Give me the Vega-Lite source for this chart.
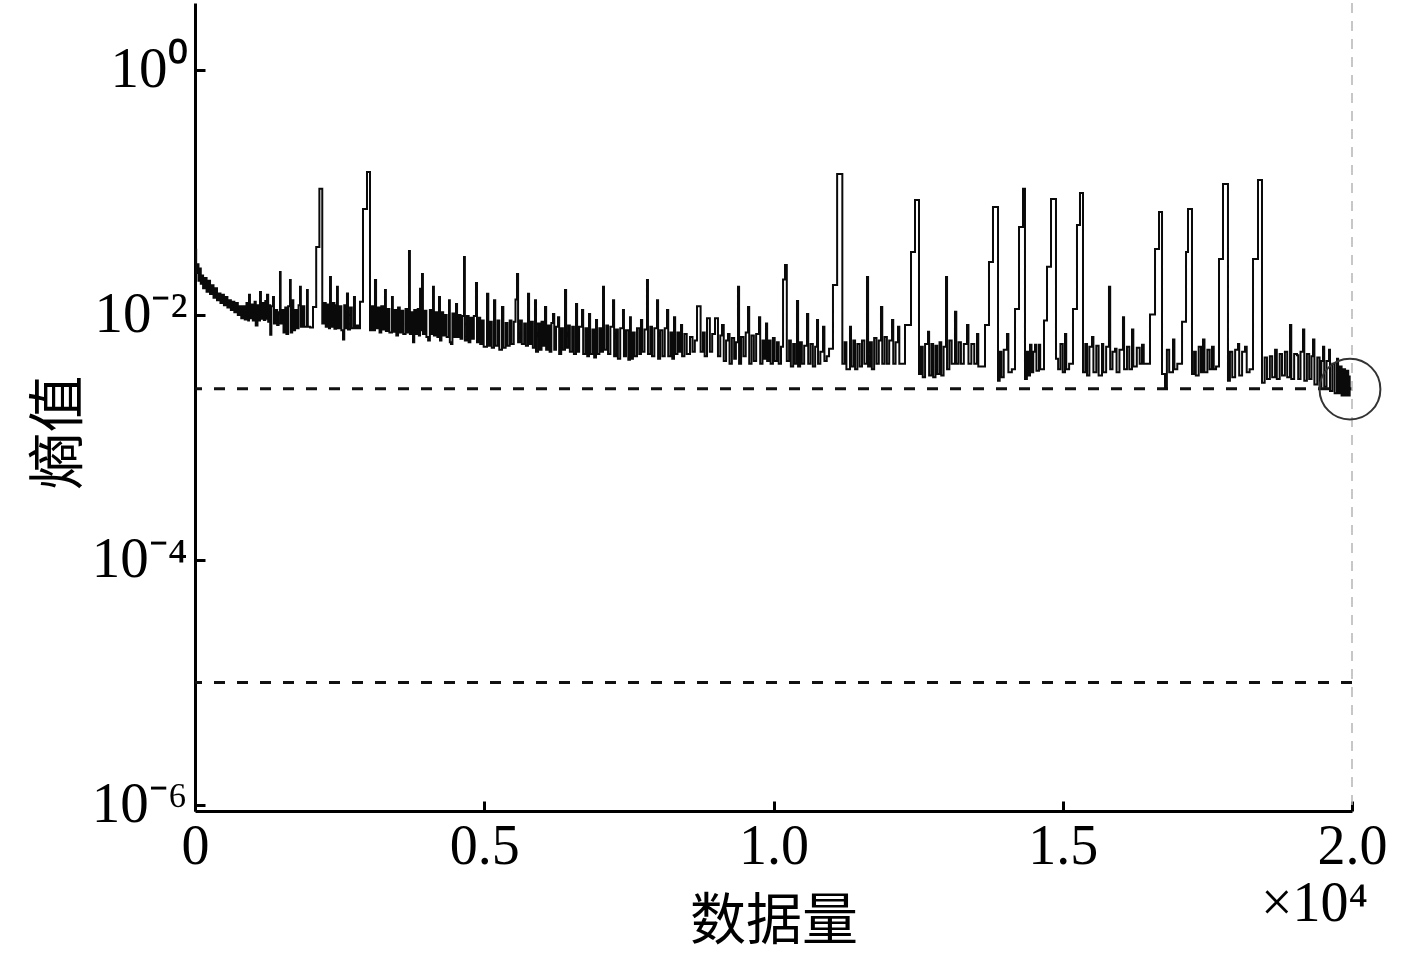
{
  "$schema": "https://vega.github.io/schema/vega-lite/v6.json",
  "width": 1157,
  "height": 808,
  "autosize": {"type": "none"},
  "padding": {"left": 195, "top": 3, "right": 65, "bottom": 144},
  "background": "white",
  "config": {"view": {"stroke": null}, "axis": {"grid": false}},
  "title": {"text": "×10⁴", "orient": "bottom", "anchor": "end", "frame": "group", "font": "Liberation Serif", "fontSize": 56, "fontWeight": "normal", "color": "#000", "baseline": "top", "offset": -72, "dx": 16},
  "layer": [
    {
      "data": {"values": [{"h": 0.0025}, {"h": 0.00001}]},
      "mark": {"type": "rule", "strokeDash": [11, 12], "strokeWidth": 3, "color": "#111"},
      "encoding": {"y": {"field": "h", "type": "quantitative", "title": "熵值", "scale": {"type": "log", "domain": [8.93e-7, 3.52], "nice": false}}}
    },
    {
      "data": {"values": [{"n": 20000}]},
      "mark": {"type": "rule", "strokeDash": [10, 8], "strokeWidth": 1.5, "color": "#b5b5b5"},
      "encoding": {"x": {"field": "n", "type": "quantitative", "title": "数据量", "scale": {"domain": [0, 20000], "nice": false, "zero": false}}}
    },
    {
      "data": {"values": [
{"n":0,"h":0.034},{"n":20,"h":0.022},{"n":40,"h":0.026},{"n":60,"h":0.019},{"n":80,"h":0.024},{"n":100,"h":0.018},{"n":120,"h":0.021},{"n":140,"h":0.0165},{"n":170,"h":0.020},{"n":200,"h":0.0155},{"n":230,"h":0.019},{"n":260,"h":0.0148},{"n":290,"h":0.0175},{"n":320,"h":0.0138},{"n":350,"h":0.0165},{"n":380,"h":0.0132},{"n":410,"h":0.0150},{"n":440,"h":0.0125},{"n":470,"h":0.0146},{"n":500,"h":0.0120},{"n":530,"h":0.0140},{"n":560,"h":0.0115},{"n":590,"h":0.0132},{"n":620,"h":0.0110},{"n":650,"h":0.0128},{"n":680,"h":0.0105},{"n":710,"h":0.0125},{"n":740,"h":0.0100},{"n":770,"h":0.0118},{"n":800,"h":0.0094},
{"n":830,"h":0.0118},{"n":860,"h":0.0092},{"n":890,"h":0.0125},{"n":920,"h":0.0090},{"n":933,"h":0.0146},{"n":950,"h":0.0094},{"n":980,"h":0.0122},{"n":1000,"h":0.0090},{"n":1030,"h":0.0128},{"n":1050,"h":0.0082},{"n":1080,"h":0.0120},{"n":1100,"h":0.0090},{"n":1124,"h":0.0154},{"n":1140,"h":0.0093},{"n":1170,"h":0.0125},{"n":1190,"h":0.0091},{"n":1215,"h":0.0130},{"n":1235,"h":0.0093},{"n":1245,"h":0.0146},{"n":1265,"h":0.0088},{"n":1290,"h":0.0120},{"n":1300,"h":0.0069},{"n":1320,"h":0.0118},{"n":1348,"h":0.0140},{"n":1365,"h":0.0085},{"n":1390,"h":0.0110},{"n":1420,"h":0.0083},{"n":1445,"h":0.0105},{"n":1469,"h":0.0224},{"n":1480,"h":0.0085},{"n":1510,"h":0.0110},{"n":1530,"h":0.0072},{"n":1560,"h":0.0115},{"n":1580,"h":0.0070},{"n":1610,"h":0.0118},{"n":1642,"h":0.0193},{"n":1655,"h":0.0072},{"n":1680,"h":0.0132},{"n":1700,"h":0.0075},{"n":1730,"h":0.0110},{"n":1760,"h":0.0078},{"n":1790,"h":0.0120},{"n":1815,"h":0.0170},{"n":1830,"h":0.0080},{"n":1860,"h":0.0118},{"n":1890,"h":0.0080},{"n":1936,"h":0.0160},{"n":1950,"h":0.0080},{"n":1990,"h":0.0079},
{"n":2040,"h":0.0116},{"n":2095,"h":0.0359},{"n":2150,"h":0.107},{"n":2200,"h":0.0085},
{"n":2230,"h":0.0125},{"n":2260,"h":0.0080},{"n":2290,"h":0.0122},{"n":2315,"h":0.0078},{"n":2334,"h":0.0204},{"n":2350,"h":0.0080},{"n":2380,"h":0.0125},{"n":2410,"h":0.0077},{"n":2440,"h":0.0120},{"n":2455,"h":0.0170},{"n":2470,"h":0.0078},{"n":2500,"h":0.0118},{"n":2530,"h":0.0075},{"n":2558,"h":0.0063},{"n":2580,"h":0.0120},{"n":2610,"h":0.0078},{"n":2627,"h":0.0150},{"n":2645,"h":0.0076},{"n":2680,"h":0.0115},{"n":2710,"h":0.0078},{"n":2748,"h":0.0140},{"n":2765,"h":0.0078},{"n":2800,"h":0.0082},{"n":2830,"h":0.0078},
{"n":2852,"h":0.0128},{"n":2904,"h":0.0733},{"n":2973,"h":0.147},{"n":3025,"h":0.0075},
{"n":3060,"h":0.0118},{"n":3090,"h":0.0075},{"n":3111,"h":0.0193},{"n":3130,"h":0.0078},{"n":3160,"h":0.0115},{"n":3190,"h":0.0072},{"n":3220,"h":0.0118},{"n":3250,"h":0.0076},{"n":3284,"h":0.0160},{"n":3300,"h":0.0074},{"n":3330,"h":0.0112},{"n":3360,"h":0.0072},{"n":3405,"h":0.0140},{"n":3420,"h":0.0073},{"n":3450,"h":0.0110},{"n":3480,"h":0.0068},{"n":3510,"h":0.0115},{"n":3540,"h":0.0072},{"n":3570,"h":0.0108},{"n":3600,"h":0.0070},{"n":3640,"h":0.0112},{"n":3670,"h":0.0072},{"n":3699,"h":0.0333},{"n":3715,"h":0.0070},{"n":3740,"h":0.0105},{"n":3768,"h":0.0060},{"n":3790,"h":0.0110},{"n":3820,"h":0.0070},{"n":3850,"h":0.0112},{"n":3870,"h":0.0068},{"n":3890,"h":0.0164},{"n":3905,"h":0.0075},{"n":3924,"h":0.0216},{"n":3940,"h":0.0070},{"n":3970,"h":0.0108},{"n":4000,"h":0.0066},{"n":4030,"h":0.0062},{"n":4060,"h":0.0110},{"n":4090,"h":0.0070},{"n":4114,"h":0.0170},{"n":4130,"h":0.0068},{"n":4160,"h":0.0105},{"n":4190,"h":0.0066},{"n":4218,"h":0.0140},{"n":4235,"h":0.0062},{"n":4260,"h":0.0105},{"n":4290,"h":0.0068},{"n":4320,"h":0.0100},{"n":4350,"h":0.0066},{"n":4391,"h":0.0132},{"n":4405,"h":0.0060},{"n":4425,"h":0.0058},{"n":4450,"h":0.0103},{"n":4480,"h":0.0066},{"n":4512,"h":0.0123},{"n":4530,"h":0.0066},{"n":4560,"h":0.0100},{"n":4590,"h":0.0064},{"n":4620,"h":0.0098},{"n":4650,"h":0.0297},{"n":4665,"h":0.0062},{"n":4700,"h":0.0098},{"n":4730,"h":0.0060},{"n":4760,"h":0.0095},{"n":4790,"h":0.0064},{"n":4820,"h":0.0098},{"n":4857,"h":0.0182},{"n":4875,"h":0.0060},{"n":4900,"h":0.0095},{"n":4930,"h":0.0058},
{"n":4960,"h":0.0090},{"n":4990,"h":0.0055},{"n":5048,"h":0.0149},{"n":5070,"h":0.0056},{"n":5100,"h":0.0088},{"n":5130,"h":0.0054},{"n":5169,"h":0.0132},{"n":5190,"h":0.0056},{"n":5230,"h":0.0090},{"n":5260,"h":0.0052},{"n":5307,"h":0.0116},{"n":5330,"h":0.0054},{"n":5370,"h":0.0086},{"n":5400,"h":0.0056},{"n":5440,"h":0.0090},{"n":5470,"h":0.0058},{"n":5510,"h":0.0088},{"n":5540,"h":0.0134},{"n":5566,"h":0.0216},{"n":5585,"h":0.0060},{"n":5620,"h":0.0090},{"n":5650,"h":0.0058},{"n":5690,"h":0.0085},{"n":5720,"h":0.0056},{"n":5756,"h":0.0149},{"n":5775,"h":0.0058},{"n":5810,"h":0.0088},{"n":5840,"h":0.0054},{"n":5877,"h":0.0132},{"n":5895,"h":0.0050},{"n":5930,"h":0.0085},{"n":5960,"h":0.0052},{"n":5990,"h":0.0088},{"n":6020,"h":0.0056},{"n":6050,"h":0.0116},{"n":6070,"h":0.0052},{"n":6100,"h":0.0082},{"n":6130,"h":0.0050},{"n":6160,"h":0.0086},{"n":6188,"h":0.0102},{"n":6210,"h":0.0052},{"n":6240,"h":0.0080},{"n":6275,"h":0.0096},{"n":6295,"h":0.0048},{"n":6330,"h":0.0078},{"n":6360,"h":0.0052},{"n":6396,"h":0.0160},{"n":6415,"h":0.0054},{"n":6450,"h":0.0082},{"n":6480,"h":0.0050},{"n":6520,"h":0.0080},{"n":6550,"h":0.0048},{"n":6586,"h":0.0123},{"n":6605,"h":0.0050},{"n":6640,"h":0.0080},{"n":6690,"h":0.0110},{"n":6710,"h":0.0048},{"n":6750,"h":0.0078},{"n":6780,"h":0.0046},{"n":6811,"h":0.0102},{"n":6830,"h":0.0048},{"n":6870,"h":0.0076},{"n":6900,"h":0.0045},{"n":6932,"h":0.0091},{"n":6950,"h":0.0048},{"n":6990,"h":0.0078},{"n":7020,"h":0.0050},{"n":7053,"h":0.0170},{"n":7070,"h":0.0052},{"n":7110,"h":0.0082},{"n":7140,"h":0.0048},{"n":7180,"h":0.0080},{"n":7226,"h":0.0132},{"n":7245,"h":0.0046},{"n":7280,"h":0.0076},{"n":7310,"h":0.0044},{"n":7350,"h":0.0078},{"n":7398,"h":0.0110},{"n":7415,"h":0.0046},{"n":7450,"h":0.0075},{"n":7490,"h":0.0043},{"n":7519,"h":0.0096},{"n":7535,"h":0.0044},{"n":7570,"h":0.0072},{"n":7600,"h":0.0046},{"n":7640,"h":0.0078},{"n":7680,"h":0.0048},{"n":7709,"h":0.0091},{"n":7730,"h":0.0050},{"n":7770,"h":0.0076},{"n":7813,"h":0.0193},{"n":7830,"h":0.0048},{"n":7870,"h":0.0080},{"n":7900,"h":0.0046},{"n":7940,"h":0.0078},{"n":7986,"h":0.0132},{"n":8005,"h":0.0044},{"n":8040,"h":0.0075},{"n":8080,"h":0.0046},{"n":8120,"h":0.0078},{"n":8159,"h":0.0110},{"n":8180,"h":0.0046},{"n":8220,"h":0.0072},{"n":8250,"h":0.0044},{"n":8280,"h":0.0096},{"n":8300,"h":0.0048},{"n":8340,"h":0.0072},{"n":8370,"h":0.0050},{"n":8401,"h":0.0083},{"n":8420,"h":0.0046},{"n":8460,"h":0.0070},{"n":8500,"h":0.0048},{"n":8557,"h":0.0066},{"n":8600,"h":0.0050},{"n":8640,"h":0.0062},{"n":8678,"h":0.0118},{"n":8740,"h":0.0050},{"n":8780,"h":0.0072},{"n":8810,"h":0.0046},{"n":8850,"h":0.0094},{"n":8900,"h":0.0050},{"n":8940,"h":0.0070},{"n":8989,"h":0.0094},{"n":9040,"h":0.0046},{"n":9080,"h":0.0068},{"n":9110,"h":0.0083},{"n":9140,"h":0.0042},{"n":9180,"h":0.0062},{"n":9213,"h":0.0070},{"n":9240,"h":0.0040},{"n":9280,"h":0.0065},{"n":9320,"h":0.0044},{"n":9350,"h":0.0060},{"n":9386,"h":0.0170},{"n":9405,"h":0.0040},{"n":9440,"h":0.0066},{"n":9480,"h":0.0046},{"n":9520,"h":0.0072},{"n":9559,"h":0.0116},{"n":9580,"h":0.0040},{"n":9620,"h":0.0068},{"n":9660,"h":0.0042},{"n":9700,"h":0.0070},{"n":9749,"h":0.0096},{"n":9770,"h":0.0040},{"n":9810,"h":0.0062},{"n":9840,"h":0.0044},{"n":9870,"h":0.0085},{"n":9890,"h":0.0042},
{"n":9920,"h":0.0062},{"n":9950,"h":0.0040},{"n":9990,"h":0.0065},{"n":10020,"h":0.0042},{"n":10060,"h":0.0060},{"n":10090,"h":0.0040},{"n":10130,"h":0.0055},{"n":10165,"h":0.0195},{"n":10199,"h":0.0256},{"n":10230,"h":0.0042},{"n":10270,"h":0.0062},{"n":10300,"h":0.0038},{"n":10340,"h":0.0058},{"n":10370,"h":0.0040},{"n":10406,"h":0.0130},{"n":10425,"h":0.0038},{"n":10460,"h":0.0060},{"n":10490,"h":0.0040},{"n":10530,"h":0.0056},{"n":10579,"h":0.0102},{"n":10600,"h":0.0040},{"n":10640,"h":0.0058},{"n":10680,"h":0.0038},{"n":10720,"h":0.0055},{"n":10752,"h":0.0091},{"n":10770,"h":0.0040},{"n":10810,"h":0.0050},{"n":10856,"h":0.0080},{"n":10880,"h":0.0042},{"n":10920,"h":0.0046},{"n":10960,"h":0.0053},{"n":11028,"h":0.0176},{"n":11100,"h":0.1416},{"n":11190,"h":0.0040},{"n":11230,"h":0.0060},{"n":11260,"h":0.0036},{"n":11322,"h":0.0080},{"n":11340,"h":0.0038},{"n":11380,"h":0.0062},{"n":11410,"h":0.0036},{"n":11450,"h":0.0058},{"n":11490,"h":0.0038},{"n":11530,"h":0.0062},{"n":11570,"h":0.0040},{"n":11616,"h":0.0204},{"n":11635,"h":0.0038},{"n":11670,"h":0.0060},{"n":11700,"h":0.0036},{"n":11740,"h":0.0065},{"n":11780,"h":0.0040},{"n":11820,"h":0.0062},{"n":11858,"h":0.0116},{"n":11880,"h":0.0040},{"n":11920,"h":0.0066},{"n":11960,"h":0.0040},{"n":12000,"h":0.0062},{"n":12049,"h":0.0091},{"n":12070,"h":0.0040},{"n":12110,"h":0.0060},{"n":12152,"h":0.0080},{"n":12175,"h":0.0040},{"n":12273,"h":0.0083},{"n":12377,"h":0.0327},{"n":12446,"h":0.0869},{"n":12515,"h":0.0033},{"n":12550,"h":0.0055},{"n":12580,"h":0.0031},{"n":12620,"h":0.0058},{"n":12671,"h":0.0073},{"n":12690,"h":0.0032},{"n":12730,"h":0.0058},{"n":12760,"h":0.0031},{"n":12800,"h":0.0056},{"n":12830,"h":0.0033},{"n":12870,"h":0.0060},{"n":12900,"h":0.0032},{"n":12940,"h":0.0055},{"n":12982,"h":0.0204},{"n":13000,"h":0.0036},{"n":13040,"h":0.0062},{"n":13080,"h":0.0040},{"n":13137,"h":0.0106},{"n":13160,"h":0.0040},{"n":13200,"h":0.0060},{"n":13240,"h":0.0040},{"n":13290,"h":0.0058},{"n":13345,"h":0.0083},{"n":13370,"h":0.0040},{"n":13420,"h":0.0058},{"n":13470,"h":0.0040},{"n":13518,"h":0.0070},{"n":13540,"h":0.0038},{"n":13656,"h":0.0083},{"n":13725,"h":0.0271},{"n":13794,"h":0.0762},{"n":13881,"h":0.0029},{"n":13910,"h":0.0050},{"n":13940,"h":0.0031},{"n":13980,"h":0.0052},{"n":14036,"h":0.0070},{"n":14060,"h":0.0034},{"n":14120,"h":0.0036},{"n":14175,"h":0.0112},{"n":14244,"h":0.0522},{"n":14313,"h":0.107},{"n":14347,"h":0.0030},{"n":14380,"h":0.0050},{"n":14410,"h":0.0032},{"n":14434,"h":0.0057},{"n":14460,"h":0.0034},{"n":14490,"h":0.0050},{"n":14520,"h":0.0057},{"n":14545,"h":0.0035},{"n":14589,"h":0.0057},{"n":14610,"h":0.0036},{"n":14676,"h":0.0090},{"n":14728,"h":0.0247},{"n":14797,"h":0.0885},{"n":14883,"h":0.0044},
{"n":14920,"h":0.0036},{"n":14960,"h":0.0058},{"n":15000,"h":0.0034},{"n":15039,"h":0.0070},{"n":15060,"h":0.0036},{"n":15110,"h":0.0040},{"n":15177,"h":0.0112},{"n":15246,"h":0.0543},{"n":15298,"h":0.0991},{"n":15350,"h":0.0034},{"n":15390,"h":0.0058},{"n":15420,"h":0.0032},{"n":15460,"h":0.0055},{"n":15506,"h":0.0066},{"n":15530,"h":0.0034},{"n":15580,"h":0.0056},{"n":15620,"h":0.0032},{"n":15679,"h":0.0058},{"n":15700,"h":0.0034},{"n":15750,"h":0.0055},{"n":15799,"h":0.0170},{"n":15820,"h":0.0036},{"n":15860,"h":0.0050},{"n":15903,"h":0.0053},{"n":15930,"h":0.0034},{"n":15980,"h":0.0052},{"n":16041,"h":0.0096},{"n":16060,"h":0.0036},{"n":16110,"h":0.0055},{"n":16150,"h":0.0036},{"n":16197,"h":0.0076},{"n":16220,"h":0.0038},{"n":16280,"h":0.0054},{"n":16330,"h":0.0040},{"n":16370,"h":0.0057},{"n":16400,"h":0.0040},{"n":16460,"h":0.0040},{"n":16508,"h":0.0101},{"n":16595,"h":0.0346},{"n":16664,"h":0.0693},{"n":16716,"h":0.0033},{"n":16768,"h":0.0025},{"n":16800,"h":0.0052},{"n":16840,"h":0.0034},{"n":16906,"h":0.0063},{"n":16930,"h":0.0036},{"n":16980,"h":0.0040},{"n":17062,"h":0.0088},{"n":17131,"h":0.0327},{"n":17165,"h":0.0733},{"n":17234,"h":0.0033},{"n":17270,"h":0.0050},{"n":17300,"h":0.0032},{"n":17350,"h":0.0055},{"n":17390,"h":0.0034},{"n":17424,"h":0.0063},{"n":17450,"h":0.0034},{"n":17500,"h":0.0052},{"n":17540,"h":0.0036},{"n":17580,"h":0.0055},{"n":17610,"h":0.0036},{"n":17650,"h":0.0038},{"n":17701,"h":0.0286},{"n":17770,"h":0.117},{"n":17856,"h":0.0029},{"n":17890,"h":0.0050},{"n":17930,"h":0.0031},{"n":17980,"h":0.0052},{"n":18029,"h":0.0058},{"n":18050,"h":0.0032},{"n":18100,"h":0.0050},{"n":18150,"h":0.0055},{"n":18180,"h":0.0034},{"n":18230,"h":0.0036},{"n":18289,"h":0.0286},{"n":18375,"h":0.1265},{"n":18444,"h":0.0028},{"n":18490,"h":0.0045},{"n":18530,"h":0.0030},{"n":18580,"h":0.0046},{"n":18620,"h":0.0031},{"n":18670,"h":0.0052},{"n":18700,"h":0.0030},{"n":18750,"h":0.0048},{"n":18790,"h":0.0032},{"n":18840,"h":0.0050},{"n":18880,"h":0.0031},{"n":18928,"h":0.0083},{"n":18950,"h":0.0030},{"n":19000,"h":0.0048},{"n":19049,"h":0.0047},{"n":19070,"h":0.0030},{"n":19110,"h":0.0050},{"n":19153,"h":0.0076},{"n":19175,"h":0.0029},{"n":19220,"h":0.0048},{"n":19260,"h":0.0030},{"n":19300,"h":0.0046},{"n":19326,"h":0.0063},{"n":19350,"h":0.0027},{"n":19400,"h":0.0045},{"n":19440,"h":0.0026},{"n":19470,"h":0.0042},{"n":19499,"h":0.0055},{"n":19520,"h":0.0026},{"n":19560,"h":0.0042},{"n":19603,"h":0.0052},{"n":19620,"h":0.0024},{"n":19660,"h":0.0040},{"n":19700,"h":0.0023},{"n":19741,"h":0.0044},{"n":19760,"h":0.0023},{"n":19790,"h":0.0038},{"n":19820,"h":0.0022},{"n":19850,"h":0.0036},{"n":19880,"h":0.0022},{"n":19910,"h":0.0035},{"n":19935,"h":0.0022},{"n":19960,"h":0.0032}
      ]},
      "mark": {"type": "line", "interpolate": "step-after", "strokeWidth": 2, "color": "#0a0a0a"},
      "encoding": {
        "x": {"field": "n", "type": "quantitative", "title": "数据量",
          "scale": {"domain": [0, 20000], "nice": false, "zero": false},
          "axis": {"values": [0, 5000, 10000, 15000, 20000], "labelExpr": "datum.value == 0 ? '0' : format(datum.value / 10000, '.1f')",
            "domainColor": "#000", "domainWidth": 3, "tickColor": "#000", "tickWidth": 3, "tickSize": -10,
            "labelFont": "Liberation Serif", "labelFontSize": 56, "labelColor": "#000", "labelPadding": 18, "labelFlush": false, "labelOverlap": false, "labelBound": false,
            "titleFont": "Noto Sans CJK SC", "titleFontSize": 56, "titleFontWeight": "normal", "titleColor": "#000", "titleBaseline": "middle", "titleY": 110}},
        "y": {"field": "h", "type": "quantitative", "title": "熵值",
          "scale": {"type": "log", "domain": [8.93e-7, 3.52], "nice": false},
          "axis": {"values": [1, 0.01, 0.0001, 0.000001], "labelExpr": "datum.value > 0.5 ? '10⁰' : datum.value > 0.005 ? '10⁻²' : datum.value > 0.00005 ? '10⁻⁴' : '10⁻⁶'",
            "domainColor": "#000", "domainWidth": 3, "tickColor": "#000", "tickWidth": 3, "tickSize": -10,
            "labelFont": "Liberation Serif", "labelFontSize": 57, "labelColor": "#000", "labelPadding": 18, "labelFlush": false, "labelOverlap": false, "labelBound": false, "labelBaseline": "middle",
            "titleFont": "Noto Sans CJK SC", "titleFontSize": 57, "titleFontWeight": "normal", "titleColor": "#000", "titleAngle": -90, "titleBaseline": "middle", "titleAlign": "center", "titleX": -136, "titleY": 429}}
      }
    },
    {
      "data": {"values": [{"n": 19965, "h": 0.00248}]},
      "mark": {"type": "point", "shape": "circle", "size": 3700, "filled": false, "strokeWidth": 2, "color": "#333", "opacity": 1},
      "encoding": {
        "x": {"field": "n", "type": "quantitative", "title": "数据量", "scale": {"domain": [0, 20000], "nice": false, "zero": false}},
        "y": {"field": "h", "type": "quantitative", "title": "熵值", "scale": {"type": "log", "domain": [8.93e-7, 3.52], "nice": false}}
      }
    }
  ]
}
